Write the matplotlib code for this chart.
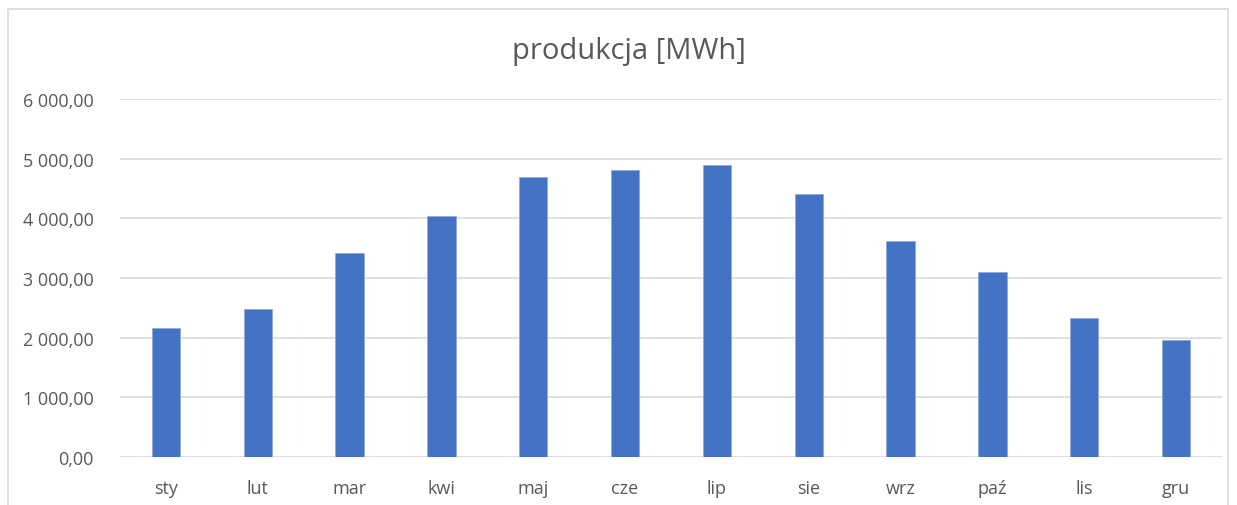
import matplotlib
matplotlib.use("Agg")
import matplotlib.pyplot as plt
from matplotlib.patches import Rectangle
from matplotlib.ticker import FuncFormatter, MultipleLocator

# ── Data ──────────────────────────────────────────────────────────
months = ["sty", "lut", "mar", "kwi", "maj", "cze",
          "lip", "sie", "wrz", "paź", "lis", "gru"]
production = [2162, 2475, 3424, 4034, 4688, 4810,
              4888, 4408, 3620, 3095, 2324, 1961]

BAR = "#4472C4"
GRID = "#D9D9D9"
TEXT = "#595959"


def pl_format(v, pos):
    s = f"{v:,.2f}"
    return s.replace(",", " ").replace(".", ",")


plt.rcParams['font.family'] = ['Open Sans', 'DejaVu Sans']

fig = plt.figure(figsize=(12.37, 5.06), dpi=100)
W, H = 1237, 506

# chart frame
fig.patches.append(Rectangle((8 / W, -0.01), 1220 / W, 1 - 10 / H + 0.01,
                             transform=fig.transFigure, fill=False,
                             edgecolor=GRID, linewidth=1.2))

ax = fig.add_axes([120 / W, 48 / H, 1102 / W, 358 / H])
x = range(len(months))
ax.bar(x, production, width=0.31, color=BAR, edgecolor="#8FAADC",
       linewidth=0.6, zorder=3)

ax.set_xlim(-0.5, len(months) - 0.5)
ax.set_ylim(0, 6000)
ax.yaxis.set_major_locator(MultipleLocator(1000))
ax.yaxis.set_major_formatter(FuncFormatter(pl_format))
ax.set_xticks(list(x))
ax.set_xticklabels(months)

ax.grid(axis="y", color=GRID, linewidth=1.2, zorder=0)
for sp in ax.spines.values():
    sp.set_visible(False)
ax.tick_params(length=0, colors=TEXT, labelsize=13)
ax.tick_params(axis="y", pad=19)
ax.tick_params(axis="x", pad=16)

fig.text(629 / W, 1 - 51 / H, "produkcja [MWh]", ha="center", va="center",
         fontsize=21, color=TEXT)

fig.savefig("out.png", dpi=100)
